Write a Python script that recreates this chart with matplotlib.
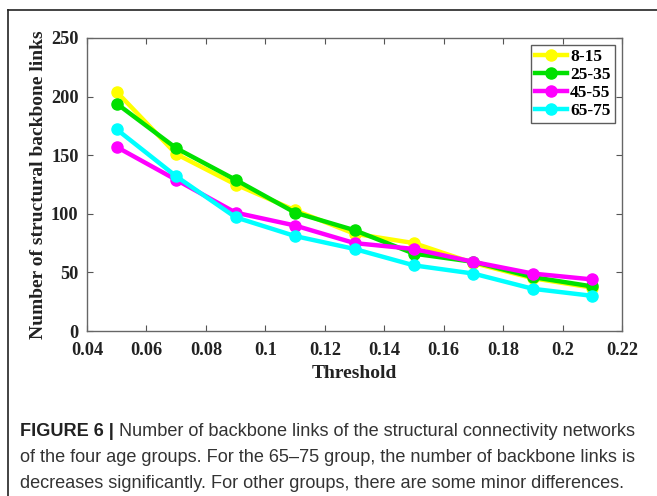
####################################################################################
## include library
import matplotlib
matplotlib.use("Agg")
import matplotlib.pyplot as plt
from matplotlib.lines import Line2D

####################################################################################
## data

thresholds = [0.05, 0.07, 0.09, 0.11, 0.13, 0.15, 0.17, 0.19, 0.21]

group_labels = ["8-15", "25-35", "45-55", "65-75"]
links_8_15 = [204, 151, 125, 103, 83, 75, 58, 45, 37]
links_25_35 = [194, 156, 129, 101, 86, 66, 59, 46, 38]
links_45_55 = [157, 129, 101, 90, 75, 70, 59, 49, 44]
links_65_75 = [172, 132, 97, 81, 70, 56, 49, 36, 30]

x_ticks = [0.04, 0.06, 0.08, 0.1, 0.12, 0.14, 0.16, 0.18, 0.2, 0.22]
x_tick_labels = ["0.04", "0.06", "0.08", "0.1", "0.12", "0.14", "0.16", "0.18", "0.2", "0.22"]
y_ticks = [0, 50, 100, 150, 200, 250]

caption_head = "FIGURE 6 |"
caption_lines = [
    "Number of backbone links of the structural connectivity networks",
    "of the four age groups. For the 65\u201375 group, the number of backbone links is",
    "decreases significantly. For other groups, there are some minor differences.",
]

####################################################################################
## plotting

W, H = 657, 496
fig = plt.figure(figsize=(W / 100, H / 100), dpi=100)

serif = "Liberation Serif"
sans = "Liberation Sans"

ax = fig.add_axes([87 / W, 1 - 331 / H, (622 - 87) / W, (331 - 38) / H])

series = [links_8_15, links_25_35, links_45_55, links_65_75]
colors = ["#ffff00", "#00e000", "#ff00ff", "#00ffff"]

for vals, col, lab in zip(series, colors, group_labels):
    ax.plot(thresholds, vals, color=col, linewidth=3.2, marker="o",
            markersize=8, label=lab)

ax.set_xlim(0.04, 0.22)
ax.set_ylim(0, 250)
ax.set_xticks(x_ticks)
ax.set_xticklabels(x_tick_labels)
ax.set_yticks(y_ticks)

ax.tick_params(direction="in", top=True, right=True, length=4, width=0.8,
               colors="#555555", labelcolor="#222222", labelsize=13.2)
ax.tick_params(axis="x", pad=8)
ax.tick_params(axis="y", pad=6)
for lbl in ax.get_xticklabels() + ax.get_yticklabels():
    lbl.set_fontfamily(serif)
    lbl.set_fontweight("bold")
for sp in ax.spines.values():
    sp.set_color("#666666")
    sp.set_linewidth(1.0)

ax.set_xlabel("Threshold", fontfamily=serif, fontweight="bold", fontsize=14,
              color="#222222", labelpad=4)
ax.set_ylabel("Number of structural backbone links", fontfamily=serif,
              fontweight="bold", fontsize=14, color="#222222", labelpad=3)

leg = ax.legend(loc="upper right", prop={"family": serif, "weight": "bold", "size": 12.5},
                frameon=True, fancybox=False, borderpad=0.25, labelspacing=0.1,
                handlelength=1.8, handletextpad=0.2, borderaxespad=0.4)
leg.get_frame().set_edgecolor("#333333")
leg.get_frame().set_linewidth(1.0)

# outer frame of the figure panel
fig.add_artist(Line2D([8 / W, 8 / W], [0, 1 - 10 / H], transform=fig.transFigure,
                      color="#222222", linewidth=1.2))
fig.add_artist(Line2D([8 / W, 1], [1 - 10 / H, 1 - 10 / H], transform=fig.transFigure,
                      color="#222222", linewidth=1.2))

# caption
y0 = 1 - 432 / H
dy = 26 / H
head = fig.text(20 / W, y0, caption_head, fontfamily=sans, fontweight="bold",
                fontsize=13.1, color="#222222", va="center")
fig.canvas.draw()
bb = head.get_window_extent()
fig.text((bb.x1 + 5) / W, y0, caption_lines[0], fontfamily=sans, fontsize=13.1,
         color="#333333", va="center")
fig.text(20 / W, y0 - dy, caption_lines[1], fontfamily=sans, fontsize=13.1,
         color="#333333", va="center")
fig.text(20 / W, y0 - 2 * dy, caption_lines[2], fontfamily=sans, fontsize=13.1,
         color="#333333", va="center")

fig.savefig("out.png", dpi=100)
